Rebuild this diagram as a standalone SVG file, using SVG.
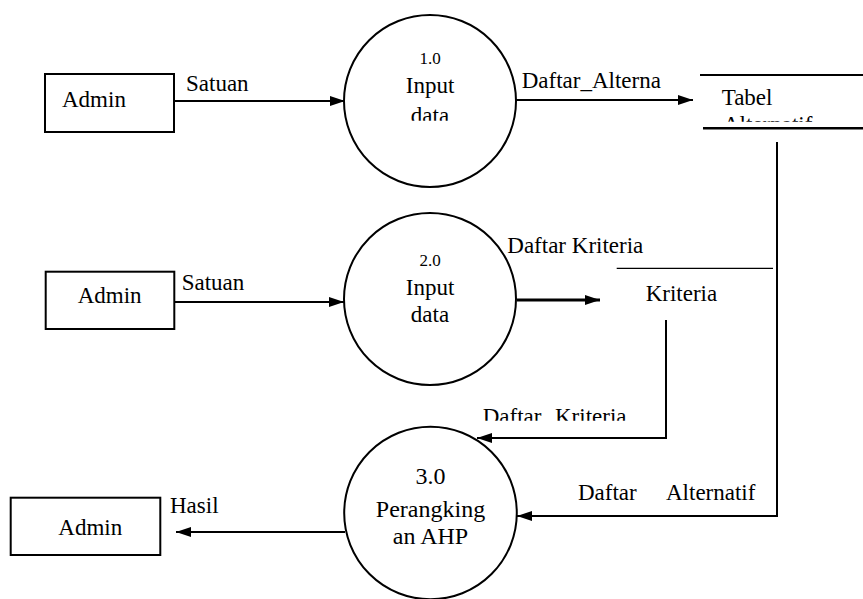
<svg xmlns="http://www.w3.org/2000/svg" width="863" height="599" viewBox="0 0 863 599">
<style>
text{font-family:'Liberation Serif','Times New Roman',Times,serif;font-size:23px;fill:#000}
.num{font-size:17px}
.big{font-size:24px}
.box{fill:#fff;stroke:#000;stroke-width:2}
.proc{fill:#fff;stroke:#000;stroke-width:2}
.st{stroke:#000;fill:none}
.flow{stroke:#000;stroke-width:2;fill:none;marker-end:url(#ah)}
</style>
<defs>
<marker id="ah" viewBox="0 0 15 10" refX="15" refY="5" markerWidth="15" markerHeight="10" markerUnits="userSpaceOnUse" orient="auto">
<path d="M0,0 L15,5 L0,10 z" fill="#000"/>
</marker>
<clipPath id="c1"><rect x="340" y="0" width="180" height="120.7"/></clipPath>
<clipPath id="c2"><rect x="700" y="0" width="163" height="121.7"/></clipPath>
<clipPath id="c3"><rect x="470" y="380" width="220" height="40.7"/></clipPath>
</defs>
<rect width="863" height="599" fill="#fff"/>
<g id="connectors">
<line class="flow" x1="175" y1="101" x2="345" y2="101"/>
<line class="flow" x1="516" y1="100" x2="693" y2="100"/>
<line class="flow" x1="175" y1="302" x2="344" y2="302"/>
<line class="flow" x1="517" y1="300" x2="600" y2="300" style="stroke-width:3"/>
<polyline class="flow" points="666,320 666,438 477,438"/>
<polyline class="flow" points="777,142 777,516 517,516"/>
<line class="flow" x1="345" y1="532" x2="176" y2="532"/>
<text x="186" y="90.7">Satuan</text>
<text x="521.7" y="88.3">Daftar_Alterna</text>
<text x="181.7" y="290">Satuan</text>
<text x="507.3" y="252.7">Daftar Kriteria</text>
<text x="482.7" y="423.5" clip-path="url(#c3)">Daftar<tspan x="555">Kriteria</tspan></text>
<text x="578" y="500">Daftar<tspan x="666">Alternatif</tspan></text>
<text x="170" y="512.7">Hasil</text>
</g>
<g id="admin1">
<rect class="box" x="45" y="74" width="129" height="58"/>
<text x="62" y="106.7">Admin</text>
</g>
<g id="admin2">
<rect class="box" x="45.7" y="271.7" width="128.6" height="57.3"/>
<text x="77.7" y="303.3">Admin</text>
</g>
<g id="admin3">
<rect class="box" x="10.7" y="497.7" width="149.6" height="57.3"/>
<text x="58.3" y="535">Admin</text>
</g>
<g id="p1">
<circle class="proc" cx="430" cy="101" r="86"/>
<text class="num" x="430" y="64" text-anchor="middle">1.0</text>
<text x="430" y="93" text-anchor="middle">Input</text>
<text x="430" y="123.4" text-anchor="middle" clip-path="url(#c1)">data</text>
</g>
<g id="p2">
<circle class="proc" cx="430" cy="299" r="86"/>
<text class="num" x="430" y="266" text-anchor="middle">2.0</text>
<text x="430" y="295" text-anchor="middle">Input</text>
<text x="430" y="321.7" text-anchor="middle">data</text>
</g>
<g id="p3">
<circle class="proc" cx="430.5" cy="513" r="86.3"/>
<text class="big" x="430.5" y="484" text-anchor="middle">3.0</text>
<text class="big" x="430.5" y="517.3" text-anchor="middle">Perangking</text>
<text class="big" x="430.5" y="544" text-anchor="middle">an AHP</text>
</g>
<g id="tabel_alternatif">
<line class="st" x1="700" y1="75" x2="863" y2="75" stroke-width="2"/>
<line class="st" x1="703" y1="128.3" x2="863" y2="128.3" stroke-width="2.5"/>
<text x="721.7" y="105">Tabel</text>
<text x="723" y="132" clip-path="url(#c2)">Alternatif</text>
</g>
<g id="kriteria">
<line class="st" x1="616.7" y1="268.3" x2="773" y2="268.3" stroke-width="1.3"/>
<text x="645.7" y="300.7">Kriteria</text>
</g>
</svg>
